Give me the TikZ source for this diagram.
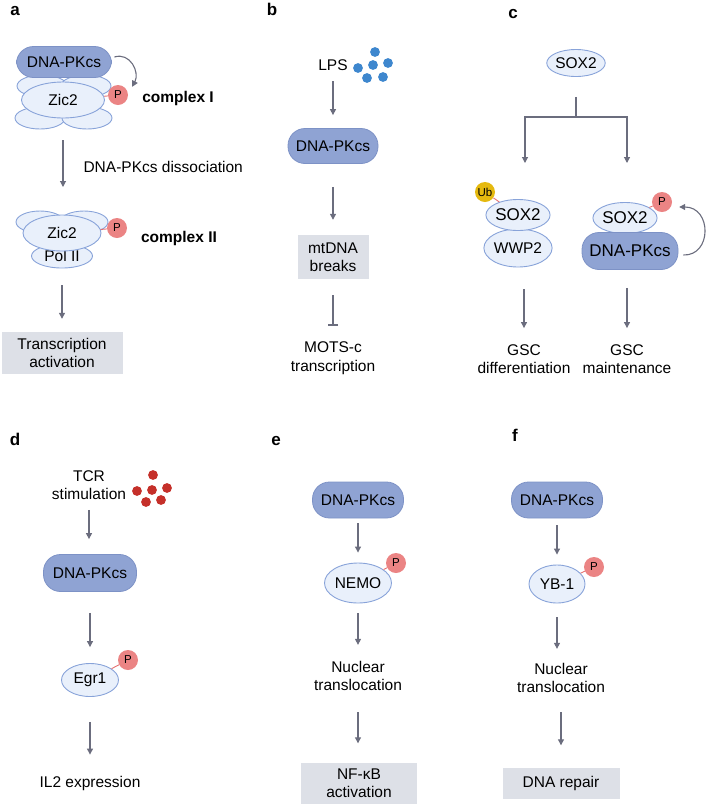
\documentclass[tikz,border=0pt]{standalone}
\usepackage{fontspec}
\setmainfont{Liberation Sans}
\usetikzlibrary{shapes.geometric,arrows.meta,positioning}
\definecolor{pkfill}{HTML}{8FA3D3}
\definecolor{pkline}{HTML}{7D92C6}
\definecolor{protfill}{HTML}{E9F0FB}
\definecolor{protline}{HTML}{88A3D9}
\definecolor{pfill}{HTML}{EB8484}
\definecolor{pline}{HTML}{E57070}
\definecolor{ubfill}{HTML}{E5B90F}
\definecolor{boxfill}{HTML}{DDE0E7}
\definecolor{arrcol}{HTML}{6B6D7E}
\definecolor{lpsblue}{HTML}{3E87CE}
\definecolor{tcrred}{HTML}{C5302A}

\begin{document}
\begin{tikzpicture}[x=1pt,y=-1pt,
    every node/.style={font=\fontsize{15.5}{18.5}\selectfont},
    pk/.style={draw=pkline,fill=pkfill,rounded corners=17pt,minimum width=92pt,minimum height=36pt,line width=0.8pt},
    prot/.style={ellipse,draw=protline,fill=protfill,line width=0.9pt,inner sep=0pt},
    big/.style={font=\fontsize{17}{20}\selectfont},
    phos/.style={circle,fill=pfill,minimum size=20pt,inner sep=0pt,font=\fontsize{11.5}{12}\selectfont},
    ubq/.style={phos,fill=ubfill},
    res/.style={fill=boxfill,minimum width=116pt,minimum height=41pt,align=center},
    txt/.style={align=center,inner sep=0pt},
    cplx/.style={font=\fontsize{15.5}{18.5}\selectfont\bfseries},
    lab/.style={anchor=base,inner sep=0pt,font=\fontsize{17}{18}\selectfont\bfseries},
    arr/.style={draw=arrcol,line width=1.1pt,-{Triangle[length=6pt,width=6pt]}},
    blk/.style={draw=arrcol,line width=1.1pt,-{Bar[width=10pt,line width=1.1pt]}},
    plink/.style={draw=pline,line width=0.9pt}]
 \useasboundingbox (0,0) rectangle (708,807);
 % panel labels
 \node[lab] (la) at (15,15) {a};
 \node[lab] (lb) at (272,15) {b};
 \node[lab] (lc) at (513,18) {c};
 \node[lab] (ld) at (15,445) {d};
 \node[lab] (le) at (276,445) {e};
 \node[lab] (lf) at (515,441) {f};

 % a
 \node[prot,minimum width=50pt,minimum height=22pt] (lob1) at (42,86) {};
 \node[prot,minimum width=50pt,minimum height=22pt] (lob2) at (86,86) {};
 \node[prot,minimum width=50pt,minimum height=22pt] (lob3) at (40,118) {};
 \node[prot,minimum width=50pt,minimum height=22pt] (lob4) at (87,118) {};
 \node[prot,minimum width=83pt,minimum height=36pt] (zica) at (63,100) {Zic2};
 \node[pk,minimum width=95pt,minimum height=31pt] (pka) at (64,62) {DNA-PKcs};
 \node[phos] (pa1) at (118,95) {P};
 \draw[plink] (zica) -- (pa1);
 \draw[arr] ([xshift=2.5pt,yshift=5pt]pka.east) .. controls (130,52) and (140,72) .. ([xshift=7pt,yshift=1pt]pa1.north east);
 \node[cplx] (cx1) at (178,98) {complex I};
 \node[anchor=west] (diss) at (80,167) {DNA-PKcs dissociation};
 \node[prot,minimum width=48pt,minimum height=22pt] (lob5) at (40,222) {};
 \node[prot,minimum width=48pt,minimum height=22pt] (lob6) at (84,222) {};
 \node[prot,minimum width=61pt,minimum height=24pt] (polb) at (62,256) {Pol II};
 \node[prot,minimum width=78pt,minimum height=36pt] (zicb) at (62,233) {Zic2};
 \node[phos] (pa2) at (117,228) {P};
 \draw[plink] (zicb) -- (pa2);
 \node[cplx] (cx2) at (179,238) {complex II};
 \draw[arr,shorten <=22pt,shorten >=46pt] (zica) -- (zica |- zicb);
 \node[res,minimum width=121pt,minimum height=42pt] (tca) at (62,353) {Transcription\\activation};
 \draw[arr,shorten <=17pt,shorten >=13pt] (polb) -- (tca);

 % b
 \node (lps) at (333,65) {LPS};
 \foreach \X/\Y in {375/52,358/68,373/65,388/63,367/78,383/77}
  \fill[lpsblue] (\X,\Y) circle[radius=4.9pt];
 \node[pk,minimum width=90pt,minimum height=35pt] (pkb) at (333,146) {DNA-PKcs};
 \node[res,minimum width=71pt,minimum height=44pt] (mtb) at (333,257) {mtDNA\\breaks};
 \node[txt] (mots) at (333,358) {MOTS-c\\transcription};
 \draw[arr,shorten <=7pt,shorten >=13pt] (lps) -- (pkb);
 \draw[arr,shorten <=23pt,shorten >=15pt] (pkb) -- (mtb);
 \draw[blk,shorten <=16pt,shorten >=16pt] (mtb) -- (mots);

 % c
 \node[prot,minimum width=58pt,minimum height=27pt] (soxc) at (576,63) {SOX2};
 \coordinate (br) at (576,117);
 \coordinate (bl) at (525,163);
 \coordinate (bR) at (627,163);
 \draw[draw=arrcol,line width=1.1pt,shorten <=20pt] (soxc) -- (br);
 \draw[arr] (br) -| (bl);
 \draw[arr] (br) -| (bR);
 \node[prot,minimum width=57pt,minimum height=38pt] (wwp) at (518,248) {WWP2};
 \node[prot,big,minimum width=61pt,minimum height=31pt] (soxl) at (518,215) {SOX2};
 \node[ubq] (ub) at (485,192) {Ub};
 \draw[plink] (soxl) -- (ub);
 \node[prot,big,minimum width=61pt,minimum height=31pt] (soxr) at (625,218) {SOX2};
 \node[pk,big,minimum width=96pt,minimum height=37pt] (pkc) at (630,251) {DNA-PKcs};
 \node[phos] (pc) at (662,202) {P};
 \draw[plink] (soxr) -- (pc);
 \draw[arr] ([xshift=5pt,yshift=-4pt]pkc.east) .. controls (712,256) and (712,207) .. ([xshift=7pt,yshift=-5pt]pc.east);
 \node[txt] (gscl) at (524,359) {GSC\\differentiation};
 \node[txt] (gscr) at (627,359) {GSC\\maintenance};
 \draw[arr,shorten <=22pt,shorten >=16pt] (gscl |- wwp.south) -- (gscl);
 \draw[arr,shorten <=18pt,shorten >=16pt] (gscr |- pkc.south) -- (gscr);

 % d
 \node[txt] (tcr) at (89,485) {TCR\\stimulation};
 \foreach \X/\Y in {153/475,137/491,152/490,167/488,146/502,161/500}
  \fill[tcrred] (\X,\Y) circle[radius=4.9pt];
 \node[pk,minimum width=93pt,minimum height=37pt] (pkd) at (90,573) {DNA-PKcs};
 \node[prot,minimum width=57pt,minimum height=33pt] (egr) at (90,680) {Egr1};
 \node[phos] (pd) at (128,660) {P};
 \draw[plink] (egr) -- (pd);
 \node[txt] (il2) at (90,783) {IL2 expression};
 \draw[arr,shorten <=10pt,shorten >=15pt] (tcr) -- (tcr |- pkd.north);
 \draw[arr,shorten <=21pt,shorten >=16pt] (pkd) -- (egr);
 \draw[arr,shorten <=25pt,shorten >=21pt] (egr) -- (il2);

 % e
 \node[pk,minimum width=91pt,minimum height=36pt] (pke) at (358,500) {DNA-PKcs};
 \node[prot,minimum width=67pt,minimum height=40pt] (nemo) at (358,583) {NEMO};
 \node[phos] (pe) at (396,563) {P};
 \draw[plink] (nemo) -- (pe);
 \node[txt] (nuce) at (358,676) {Nuclear\\translocation};
 \node[res] (nfkb) at (359,783) {NF-κB\\activation};
 \draw[arr,shorten <=5pt,shorten >=10pt] (pke) -- (nemo);
 \draw[arr,shorten <=10pt,shorten >=16pt] (nemo) -- (nuce);
 \draw[arr,shorten <=21pt,shorten >=19pt] (nuce) -- (nuce |- nfkb.north);

 % f
 \node[pk,minimum width=91pt,minimum height=36pt] (pkf) at (557,500) {DNA-PKcs};
 \node[prot,minimum width=56pt,minimum height=38pt] (yb) at (557,584) {YB-1};
 \node[phos] (pf) at (594,567) {P};
 \draw[plink] (yb) -- (pf);
 \node[txt] (nucf) at (561,678) {Nuclear\\translocation};
 \node[res,minimum width=117pt,minimum height=31pt] (dnar) at (561,783) {DNA repair};
 \draw[arr,shorten <=7pt,shorten >=10pt] (pkf) -- (yb);
 \draw[arr,shorten <=14pt,shorten >=14pt] (yb) -- (yb |- nucf.north);
 \draw[arr,shorten <=19pt,shorten >=22pt] (nucf) -- (nucf |- dnar.north);
\end{tikzpicture}
\end{document}
